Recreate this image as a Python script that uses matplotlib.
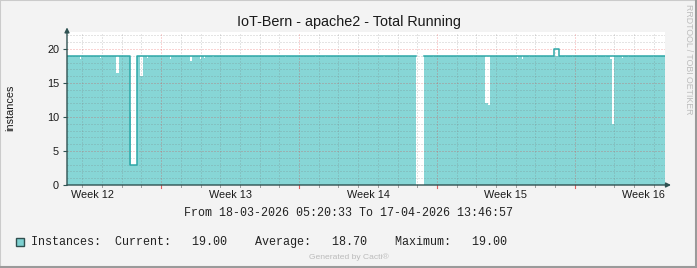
import numpy as np
import pandas as pd
import matplotlib
matplotlib.use("Agg")
import matplotlib.pyplot as plt
import matplotlib.dates as mdates
from matplotlib.patches import Rectangle
from matplotlib.transforms import blended_transform_factory

# ---------------- data ----------------
range_start = "2026-03-18 05:20:33"
range_end = "2026-04-17 13:46:57"

# area (average) step series: value holds from this time until the next
area_times = [
    "2026-03-18 05:20", "2026-03-18 21:10", "2026-03-18 22:24", "2026-03-19 21:32",
    "2026-03-19 22:44", "2026-03-20 17:00", "2026-03-20 17:40", "2026-03-20 18:40",
    "2026-03-20 20:41", "2026-03-21 10:05", "2026-03-21 11:30", "2026-03-21 18:14",
    "2026-03-21 22:14", "2026-03-22 01:19", "2026-03-22 06:48", "2026-03-22 08:02",
    "2026-03-23 10:50", "2026-03-23 12:02", "2026-03-24 11:11", "2026-03-24 13:38",
    "2026-03-24 23:20", "2026-03-25 00:35", "2026-03-25 04:14", "2026-03-25 05:26",
    "2026-03-25 13:59", "2026-03-25 16:26", "2026-03-29 06:56", "2026-03-29 08:08",
    "2026-03-30 19:26", "2026-03-30 20:44", "2026-03-31 07:38", "2026-03-31 08:50",
    "2026-04-03 06:20", "2026-04-03 08:44", "2026-04-04 22:32", "2026-04-05 08:14",
    "2026-04-05 19:14", "2026-04-05 20:26", "2026-04-07 00:26", "2026-04-07 01:38",
    "2026-04-07 19:56", "2026-04-07 21:08", "2026-04-08 10:32", "2026-04-08 14:14",
    "2026-04-08 16:02", "2026-04-10 01:32", "2026-04-10 02:44", "2026-04-10 07:38",
    "2026-04-10 08:50", "2026-04-10 16:14", "2026-04-10 17:26", "2026-04-12 12:02",
    "2026-04-12 13:14", "2026-04-12 20:32", "2026-04-12 21:50", "2026-04-14 03:02",
    "2026-04-14 04:14", "2026-04-14 12:44", "2026-04-14 14:02", "2026-04-14 18:50",
    "2026-04-14 20:56", "2026-04-14 23:44", "2026-04-15 09:32", "2026-04-15 10:44",
    "2026-04-15 16:50", "2026-04-15 18:02", "2026-04-16 23:14", "2026-04-17 00:32",
    "2026-04-17 13:46",
]
area_values = [
    19, 18.6, 19, 18.7,
    19, 16.5, 7, 16.5,
    19, 10.8, 3, 19,
    16.1, 19, 18.7, 19,
    18.6, 19, 18.3, 19,
    18.6, 19, 18.7, 19,
    18.8, 19, 18.8, 19,
    18.8, 19, 18.8, 19,
    18.8, 19, np.nan, 19,
    18.8, 19, 18.8, 19,
    18.8, 19, 12, 11.8,
    19, 18.7, 19, 18.5,
    19, 18.8, 19, 18.8,
    19, 18.8, 19, 18.8,
    19, 18.8, 19, 18.5,
    9, 19, 18.7, 19,
    18.8, 19, 18.8, 19,
    19,
]

# line (maximum) step series
line_times = [
    "2026-03-18 05:20", "2026-03-21 10:05", "2026-03-21 18:14", "2026-04-04 22:32",
    "2026-04-05 08:14", "2026-04-11 22:38", "2026-04-12 04:08", "2026-04-17 13:46",
]
line_values = [19, 3, 19, np.nan, 19, 20, 19, 19]

week_labels = ["Week 12", "Week 13", "Week 14", "Week 15", "Week 16"]
week_label_times = ["2026-03-19 12:00", "2026-03-26 12:00", "2026-04-02 12:00",
                    "2026-04-09 12:00", "2026-04-16 12:00"]
week_starts = ["2026-03-23", "2026-03-30", "2026-04-06", "2026-04-13"]
y_ticks = [0, 5, 10, 15, 20]

title = "IoT-Bern - apache2 - Total Running"
y_label = "instances"
legend_text = "Instances:  Current:   19.00    Average:   18.70    Maximum:   19.00"
range_text = "From 18-03-2026 05:20:33 To 17-04-2026 13:46:57"

# ---------------- style ----------------
W, H = 697, 268
BG = "#F3F3F3"
FILL = "#87D6D6"
LINE = "#2EA8A8"
AXC = "#2F5252"
SANS = ["Liberation Sans", "DejaVu Sans"]
MONO = ["Liberation Mono", "DejaVu Sans Mono"]

fig = plt.figure(figsize=(W / 100, H / 100), dpi=100, facecolor=BG)

def fx(x):
    return x / W

def fy(y):
    return 1 - y / H

def step_xy(times, values):
    t = mdates.date2num(pd.to_datetime(times))
    v = np.asarray(values, dtype=float)
    xs = np.repeat(t, 2)[1:-1]
    ys = np.repeat(v[:-1], 2)
    return xs, ys

ax_left, ax_right, ax_bottom, ax_top = 67, 665, 185, 32
ax = fig.add_axes([fx(ax_left), fy(ax_bottom), (ax_right - ax_left) / W,
                   (ax_bottom - ax_top) / H])
ax.set_facecolor("white")

t0 = mdates.date2num(pd.Timestamp(range_start))
t1 = mdates.date2num(pd.Timestamp(range_end))
ax.set_xlim(t0, t1)
ax.set_ylim(0, 22.5)

axs, ays = step_xy(area_times, area_values)
ax.fill_between(axs, 0, ays, color=FILL, lw=0, zorder=1)

lxs, lys = step_xy(line_times, line_values)
ax.plot(lxs, lys, color=LINE, lw=1.1, zorder=4)

# grid
minor_kw = dict(color=(0.45, 0.45, 0.45, 0.38), lw=0.72, ls=(0, (1, 2)), zorder=3)
major_kw = dict(color=(0.9, 0.1, 0.1, 0.38), lw=0.72, ls=(0, (1, 2)), zorder=3)
for yv in range(1, 23):
    if yv % 5 == 0:
        ax.axhline(yv, **major_kw)
    else:
        ax.axhline(yv, **minor_kw)

days = pd.date_range("2026-03-19", "2026-04-17", freq="D")
ws = set(pd.to_datetime(week_starts))
trans = blended_transform_factory(ax.transData, ax.transAxes)
for d in days:
    xd = mdates.date2num(d)
    if d in ws:
        ax.axvline(xd, **major_kw)
        ax.plot([xd, xd], [0, -0.022], transform=trans, color="#E06060",
                lw=0.8, clip_on=False, zorder=5)
    else:
        ax.axvline(xd, **minor_kw)
        ax.plot([xd, xd], [0, -0.013], transform=trans, color="#A0A0A0",
                lw=0.72, clip_on=False, zorder=5)

for s in ax.spines.values():
    s.set_visible(False)

# axes with arrows
ax.annotate("", xy=(0, 1.03), xytext=(0, 0), xycoords="axes fraction",
            arrowprops=dict(arrowstyle="-|>", color=AXC, lw=1.0,
                            mutation_scale=7, shrinkA=0, shrinkB=0), zorder=6)
ax.annotate("", xy=(1.01, 0), xytext=(0, 0), xycoords="axes fraction",
            arrowprops=dict(arrowstyle="-|>", color=AXC, lw=1.0,
                            mutation_scale=7, shrinkA=0, shrinkB=0), zorder=6)

ax.set_yticks(y_ticks)
ax.set_yticklabels([str(v) for v in y_ticks], fontfamily=SANS, fontsize=7.8,
                   color="#1A1A1A")
ax.tick_params(axis="y", length=3.2, width=0.8, color=AXC, pad=2.5)

ax.set_xticks(mdates.date2num(pd.to_datetime(week_label_times)))
ax.set_xticklabels(week_labels, fontfamily=SANS, fontsize=7.8, color="#1A1A1A")
ax.tick_params(axis="x", length=0, pad=3.5)

# texts
fig.text(fx(349), fy(22), title, ha="center", va="center", fontfamily=SANS,
         fontsize=10.4, color="#1A1A1A")
fig.text(fx(10), fy(108), y_label, ha="center", va="center", rotation=90,
         fontfamily=SANS, fontsize=7.8, color="#1A1A1A")
fig.text(fx(349), fy(212.5), range_text, ha="center", va="center",
         fontfamily=MONO, fontsize=8.4, color="#222222")
fig.text(fx(31), fy(241.5), legend_text, ha="left", va="center",
         fontfamily=MONO, fontsize=8.5, color="#222222")
fig.patches.append(Rectangle((fx(15.5), fy(246)), 8 / W, 8 / H,
                             transform=fig.transFigure, facecolor="#7DD0D0",
                             edgecolor="#2F4F4F", lw=1.0))
fig.text(fx(349), fy(257), "Generated by Cacti\u00ae", ha="center", va="center",
         fontfamily=SANS, fontsize=6.1, color="#BBBBBB")
fig.text(fx(688), fy(4), "RRDTOOL / TOBI OETIKER", ha="center", va="top",
         rotation=270, fontfamily=SANS, fontsize=6.3, color="#BDBDBD")

# frame shading
fig.patches.append(Rectangle((0, 0), 1, 1, transform=fig.transFigure,
                             fill=False, edgecolor="#CBCBCB", lw=1.5))
fig.add_artist(plt.Line2D([0, 1], [0.003, 0.003], transform=fig.transFigure,
                          color="#9A9A9A", lw=1.5))
fig.add_artist(plt.Line2D([0.998, 0.998], [0, 1], transform=fig.transFigure,
                          color="#9A9A9A", lw=1.5))

fig.savefig("out.png", dpi=100, facecolor=BG)
